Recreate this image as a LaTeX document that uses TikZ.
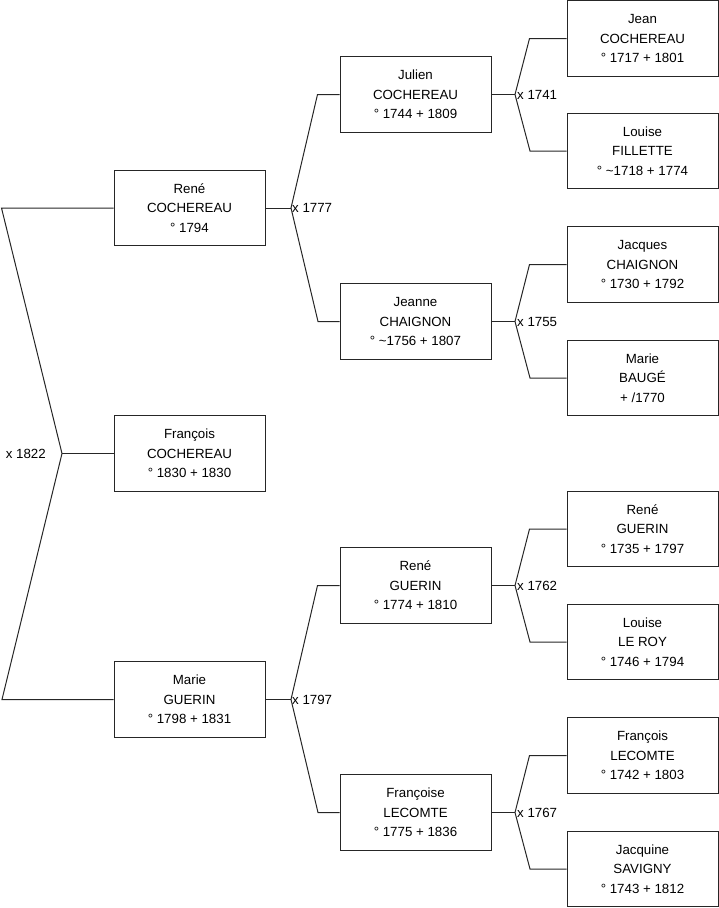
\documentclass[tikz,border=0pt]{standalone}
\usepackage{fontspec}
\setmainfont{Liberation Sans}
\begin{document}
\begin{tikzpicture}[x=1pt,y=-1pt,
 person/.style={draw=black!85,line width=1pt,minimum width=151pt,minimum height=75.5pt,inner sep=0pt,align=center,font=\fontsize{13.3}{19.5}\selectfont},
 link/.style={draw=black!85,line width=1pt},
 marr/.style={font=\fontsize{13.3}{16}\selectfont,inner sep=1pt}]
\useasboundingbox (0,0) rectangle (719,908);
% generation 1
\node[person] (rene) at (189.5,208) {René\\COCHEREAU\\° 1794};
\node[person] (francois) at (189.5,453.5) {François\\COCHEREAU\\° 1830 + 1830};
\node[person] (marie) at (189.5,699.5) {Marie\\GUERIN\\° 1798 + 1831};
% generation 2
\node[person] (julien) at (415.5,94.5) {Julien\\COCHEREAU\\° 1744 + 1809};
\node[person] (jeanne) at (415.5,321.5) {Jeanne\\CHAIGNON\\° \textasciitilde1756 + 1807};
\node[person] (reneg) at (415.5,585.5) {René\\GUERIN\\° 1774 + 1810};
\node[person] (francoise) at (415.5,812.5) {Françoise\\LECOMTE\\° 1775 + 1836};
% generation 3
\node[person] (jean) at (642.5,38.5) {Jean\\COCHEREAU\\° 1717 + 1801};
\node[person] (louisef) at (642.5,151) {Louise\\FILLETTE\\° \textasciitilde1718 + 1774};
\node[person] (jacques) at (642.5,264.5) {Jacques\\CHAIGNON\\° 1730 + 1792};
\node[person] (marieb) at (642.5,378) {Marie\\BAUGÉ\\+ /1770};
\node[person] (renegg) at (642.5,529) {René\\GUERIN\\° 1735 + 1797};
\node[person] (louiselr) at (642.5,642) {Louise\\LE ROY\\° 1746 + 1794};
\node[person] (francoisl) at (642.5,755.5) {François\\LECOMTE\\° 1742 + 1803};
\node[person] (jacquine) at (642.5,869) {Jacquine\\SAVIGNY\\° 1743 + 1812};
% marriage junctions
\coordinate (m0) at (62,453.5);
\coordinate (m1) at (291,208);
\coordinate (m2) at (291,699.5);
\coordinate (m3) at (515,94.5);
\coordinate (m4) at (515,321.5);
\coordinate (m5) at (515,585.5);
\coordinate (m6) at (515,812.5);
% root
\draw[link] (rene.west) -- ++(-112,0) -- (m0) -- ++(-60,246) -- (marie.west);
\draw[link] (m0) -- (francois.west);
\node[marr,anchor=east] (x1822) at (47,453.5) {x 1822};
% gen1 -> gen2
\draw[link] (rene.east) -- (m1);
\draw[link] (julien.west) -- ++(-22,0) -- (m1) -- ++(27,113.5) -- (jeanne.west);
\node[marr,anchor=west] (x1777) at (291,208) {x 1777};
\draw[link] (marie.east) -- (m2);
\draw[link] (reneg.west) -- ++(-22,0) -- (m2) -- ++(27,113) -- (francoise.west);
\node[marr,anchor=west] (x1797) at (291,699.5) {x 1797};
% gen2 -> gen3
\draw[link] (julien.east) -- (m3);
\draw[link] (jean.west) -- ++(-37,0) -- (m3) -- ++(15,56.5) -- (louisef.west);
\node[marr,anchor=west] (x1741) at (516,94.5) {x 1741};
\draw[link] (jeanne.east) -- (m4);
\draw[link] (jacques.west) -- ++(-37,0) -- (m4) -- ++(15,56.5) -- (marieb.west);
\node[marr,anchor=west] (x1755) at (516,321.5) {x 1755};
\draw[link] (reneg.east) -- (m5);
\draw[link] (renegg.west) -- ++(-37,0) -- (m5) -- ++(15,56.5) -- (louiselr.west);
\node[marr,anchor=west] (x1762) at (516,585.5) {x 1762};
\draw[link] (francoise.east) -- (m6);
\draw[link] (francoisl.west) -- ++(-37,0) -- (m6) -- ++(15,56.5) -- (jacquine.west);
\node[marr,anchor=west] (x1767) at (516,812.5) {x 1767};
\end{tikzpicture}
\end{document}
